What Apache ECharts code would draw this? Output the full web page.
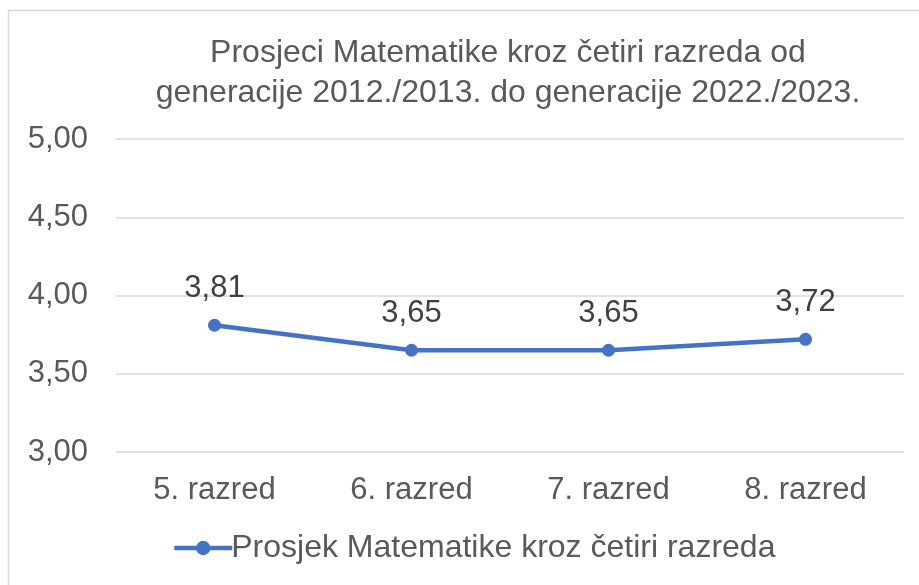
<!DOCTYPE html>
<html>
<head>
<meta charset="utf-8">
<script src="https://cdn.jsdelivr.net/npm/echarts@6/dist/echarts.min.js"></script>
<style>
  html, body { margin: 0; padding: 0; background: #fff; }
  #chart { width: 919px; height: 585px; }
</style>
</head>
<body>
<div id="chart"></div>
<script>
const categories = ['5. razred', '6. razred', '7. razred', '8. razred']
const averages = [3.81, 3.65, 3.65, 3.72]
const seriesName = 'Prosjek Matematike kroz četiri razreda'
const titleText = 'Prosjeci Matematike kroz četiri razreda od\ngeneracije 2012./2013. do generacije 2022./2023.'

const fmt = (v) => Number(v).toFixed(2).replace('.', ',')
const font = 'Liberation Sans, Arial, sans-serif'

const chart = echarts.init(document.getElementById('chart'))

chart.setOption({
  animation: false,
  textStyle: { fontFamily: font },
  graphic: [
    {
      type: 'rect',
      shape: { x: 8.5, y: 10.5, width: 1000, height: 1000 },
      style: { fill: 'none', stroke: '#d9d9d9', lineWidth: 1.5 },
      silent: true,
    },
  ],
  title: {
    text: titleText,
    left: 503,
    textAlign: 'center',
    top: 28,
    textStyle: {
      color: '#595959',
      fontWeight: 'normal',
      fontFamily: font,
      fontSize: 32,
      lineHeight: 40,
    },
  },
  legend: {
    left: 172,
    top: 532,
    padding: 0,
    itemWidth: 58,
    itemHeight: 18,
    itemGap: 0,
    lineStyle: { width: 4.5 },
    textStyle: { color: '#595959', fontSize: 32, fontFamily: font, padding: [0, 0, 0, -6] },
    data: [seriesName],
  },
  grid: {
    left: 116,
    right: 15,
    top: 139,
    bottom: 133,
    containLabel: false,
  },
  xAxis: {
    type: 'category',
    data: categories,
    boundaryGap: true,
    axisLine: { show: false },
    axisTick: { show: false },
    axisLabel: { color: '#595959', fontSize: 31, fontFamily: font, margin: 23 },
  },
  yAxis: {
    type: 'value',
    min: 3,
    max: 5,
    interval: 0.5,
    axisLine: { show: false },
    axisTick: { show: false },
    splitLine: { lineStyle: { color: '#d9d9d9', width: 1.5 } },
    axisLabel: { color: '#595959', fontSize: 31, fontFamily: font, margin: 28, formatter: fmt },
  },
  series: [
    {
      type: 'line',
      name: seriesName,
      data: averages,
      symbol: 'circle',
      symbolSize: 13,
      lineStyle: { color: '#4472c4', width: 4.5 },
      itemStyle: { color: '#4472c4' },
      label: {
        show: true,
        position: 'top',
        distance: 15,
        color: '#404040',
        fontSize: 31,
        fontFamily: font,
        formatter: (p) => fmt(p.value),
      },
    },
  ],
})
</script>
</body>
</html>
